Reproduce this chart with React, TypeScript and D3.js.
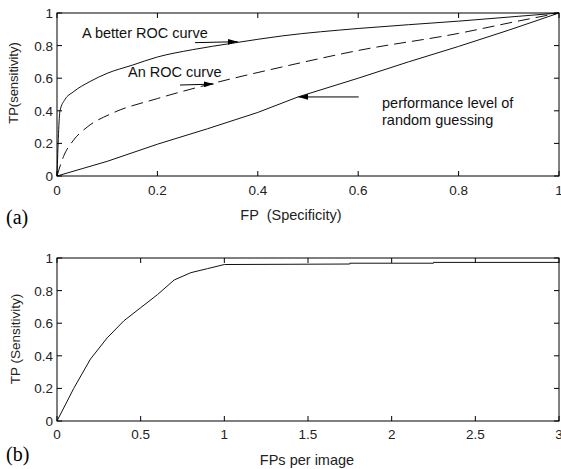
import React, { useEffect, useRef } from 'react';
import * as d3 from 'd3';

// ---- data ----
const betterRoc: [number, number][] = [
  [0, 0], [0.006, 0.4], [0.016, 0.47], [0.032, 0.515], [0.066, 0.58], [0.1, 0.63],
  [0.15, 0.68], [0.2, 0.73], [0.27, 0.775], [0.35, 0.815], [0.45, 0.86], [0.6, 0.905],
  [0.8, 0.95], [0.92, 0.98], [1, 1],
];
const plainRoc: [number, number][] = [
  [0, 0], [0.013, 0.12], [0.033, 0.22], [0.06, 0.3], [0.11, 0.385], [0.2, 0.475],
  [0.3, 0.56], [0.45, 0.67], [0.6, 0.77], [0.8, 0.875], [0.91, 0.945], [1, 1],
];
const randomGuess: [number, number][] = [
  [0, 0], [0.05, 0.045], [0.1, 0.09], [0.2, 0.195], [0.3, 0.29], [0.4, 0.39],
  [0.48, 0.485], [0.6, 0.6], [0.7, 0.7], [0.8, 0.795], [0.9, 0.895], [1, 1],
];
const froc: [number, number][] = [
  [0, 0], [0.1, 0.2], [0.2, 0.38], [0.3, 0.51], [0.4, 0.615], [0.5, 0.695],
  [0.6, 0.775], [0.7, 0.865], [0.8, 0.91], [0.9, 0.935], [1, 0.96], [1.75, 0.963],
  [1.75, 0.968], [2.25, 0.968], [2.25, 0.973], [3, 0.973],
];

const topXTicks = [0, 0.2, 0.4, 0.6, 0.8, 1];
const yTicks = [0, 0.2, 0.4, 0.6, 0.8, 1];
const bottomXTicks = [0, 0.5, 1, 1.5, 2, 2.5, 3];

// annotation arrows (tail -> head) in data units of the top plot
const arrows = [
  { from: [0.275, 0.818], to: [0.36, 0.824] },
  { from: [0.245, 0.558], to: [0.312, 0.564] },
  { from: [0.601, 0.485], to: [0.481, 0.485] },
];

const W = 561;
const H = 469;
const SANS = 'Liberation Sans, Arial, Helvetica, sans-serif';
const SERIF = 'Liberation Serif, Times New Roman, serif';

function drawFrame(g: any, x: any, y: any, xTicks: number[], tickY: number) {
  const [x0, x1] = x.range();
  const [y0, y1] = y.range();
  g.append('rect')
    .attr('x', x0).attr('y', y1)
    .attr('width', x1 - x0).attr('height', y0 - y1)
    .attr('fill', 'none').attr('stroke', '#000').attr('stroke-width', 1);

  // inward ticks on all four sides, matlab style
  xTicks.forEach(t => {
    const px = x(t);
    g.append('line').attr('x1', px).attr('x2', px).attr('y1', y0).attr('y2', y0 - 5).attr('stroke', '#000');
    g.append('line').attr('x1', px).attr('x2', px).attr('y1', y1).attr('y2', y1 + 5).attr('stroke', '#000');
    g.append('text')
      .attr('x', px).attr('y', tickY)
      .attr('text-anchor', 'middle')
      .style('font-family', SANS).style('font-size', '13.5px').style('fill', '#222')
      .text(d3.format('')(t));
  });
  yTicks.forEach(t => {
    const py = y(t);
    g.append('line').attr('x1', x0).attr('x2', x0 + 5).attr('y1', py).attr('y2', py).attr('stroke', '#000');
    g.append('line').attr('x1', x1).attr('x2', x1 - 5).attr('y1', py).attr('y2', py).attr('stroke', '#000');
    g.append('text')
      .attr('x', x0 - 4).attr('y', py + 5)
      .attr('text-anchor', 'end')
      .style('font-family', SANS).style('font-size', '13.5px').style('fill', '#222')
      .text(d3.format('')(t));
  });
}

const App = () => {
  const svgRef = useRef<SVGSVGElement>(null);

  useEffect(() => {
    const svg = d3.select(svgRef.current);
    svg.selectAll('*').remove();

    svg.append('defs').append('marker')
      .attr('id', 'head')
      .attr('viewBox', '0 0 10 6')
      .attr('refX', 10).attr('refY', 3)
      .attr('markerWidth', 10).attr('markerHeight', 6)
      .attr('markerUnits', 'userSpaceOnUse')
      .attr('orient', 'auto')
      .append('path').attr('d', 'M0,0 L10,3 L0,6 Z').attr('fill', '#000');

    // ---- (a) ROC ----
    const xa = d3.scaleLinear().domain([0, 1]).range([57, 559]);
    const ya = d3.scaleLinear().domain([0, 1]).range([176, 13]);
    const ga = svg.append('g');
    const lineA = d3.line<[number, number]>().x(d => xa(d[0])).y(d => ya(d[1]));
    const smoothA = d3.line<[number, number]>().x(d => xa(d[0])).y(d => ya(d[1])).curve(d3.curveMonotoneX);

    ga.append('path').attr('d', lineA(randomGuess)).attr('fill', 'none').attr('stroke', '#111').attr('stroke-width', 1);
    ga.append('path').attr('d', smoothA(plainRoc)).attr('fill', 'none').attr('stroke', '#111').attr('stroke-width', 1)
      .attr('stroke-dasharray', '12,6');
    ga.append('path').attr('d', smoothA(betterRoc)).attr('fill', 'none').attr('stroke', '#111').attr('stroke-width', 1);

    drawFrame(ga, xa, ya, topXTicks, 195);

    arrows.forEach(a => {
      ga.append('line')
        .attr('x1', xa(a.from[0])).attr('y1', ya(a.from[1]))
        .attr('x2', xa(a.to[0])).attr('y2', ya(a.to[1]))
        .attr('stroke', '#000').attr('stroke-width', 1)
        .attr('marker-end', 'url(#head)');
    });

    const note = (txt: string, x: number, y: number) =>
      ga.append('text').attr('x', x).attr('y', y)
        .style('font-family', SANS).style('font-size', '14.5px').style('fill', '#111')
        .text(txt);
    note('A better ROC curve', 82, 38);
    note('An ROC curve', 128, 77);
    note('performance level of', 382, 108);
    note('random guessing', 382, 125);

    ga.append('text')
      .attr('x', 291).attr('y', 220).attr('text-anchor', 'middle')
      .style('font-family', SANS).style('font-size', '14.5px').style('fill', '#222')
      .attr('xml:space', 'preserve')
      .text('FP  (Specificity)');
    ga.append('text')
      .attr('transform', 'translate(18,83) rotate(-90)').attr('text-anchor', 'middle')
      .style('font-family', SANS).style('font-size', '13px').style('fill', '#222')
      .text('TP(sensitivity)');
    ga.append('text')
      .attr('x', 6).attr('y', 224)
      .style('font-family', SERIF).style('font-size', '20px').style('fill', '#000')
      .text('(a)');

    // ---- (b) FROC ----
    const xb = d3.scaleLinear().domain([0, 3]).range([57, 559]);
    const yb = d3.scaleLinear().domain([0, 1]).range([421, 258]);
    const gb = svg.append('g');
    const lineB = d3.line<[number, number]>().x(d => xb(d[0])).y(d => yb(d[1]));

    gb.append('path').attr('d', lineB(froc)).attr('fill', 'none').attr('stroke', '#111').attr('stroke-width', 1);

    drawFrame(gb, xb, yb, bottomXTicks, 439);

    gb.append('text')
      .attr('x', 307).attr('y', 465).attr('text-anchor', 'middle')
      .style('font-family', SANS).style('font-size', '14.5px').style('fill', '#222')
      .text('FPs per image');
    gb.append('text')
      .attr('transform', 'translate(20,339) rotate(-90)').attr('text-anchor', 'middle')
      .style('font-family', SANS).style('font-size', '13.5px').style('fill', '#222')
      .text('TP (Sensitivity)');
    gb.append('text')
      .attr('x', 6).attr('y', 461)
      .style('font-family', SERIF).style('font-size', '20px').style('fill', '#000')
      .text('(b)');
  }, []);

  return (
    <svg
      ref={svgRef}
      width={W}
      height={H}
      style={{ position: 'absolute', left: 0, top: 0, background: '#fff' }}
    />
  );
};

export default App;
